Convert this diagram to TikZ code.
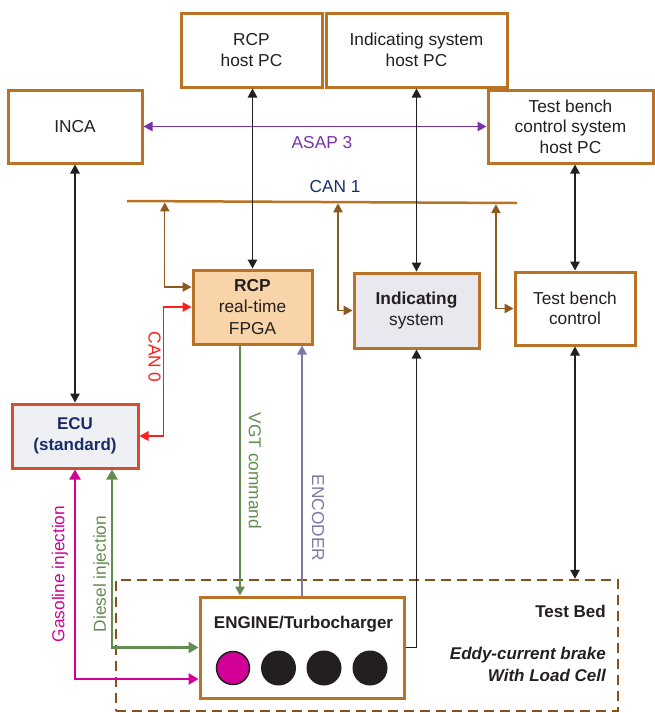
\documentclass[tikz,border=0pt]{standalone}
\usepackage{fontspec}
\setmainfont{Liberation Sans}
\usetikzlibrary{arrows.meta,calc}
\definecolor{boxbrown}{RGB}{186,114,36}
\definecolor{linkbrown}{RGB}{140,90,30}
\definecolor{dashbrown}{RGB}{130,82,25}
\definecolor{rcpfill}{RGB}{248,212,168}
\definecolor{indfill}{RGB}{232,232,238}
\definecolor{ecufill}{RGB}{238,240,244}
\definecolor{ecured}{RGB}{208,80,48}
\definecolor{navy}{RGB}{25,45,105}
\definecolor{asap}{RGB}{120,50,170}
\definecolor{canred}{RGB}{255,30,30}
\definecolor{grn}{RGB}{100,140,80}
\definecolor{enc}{RGB}{125,120,165}
\definecolor{mag}{RGB}{210,0,150}
\definecolor{txt}{RGB}{35,31,32}
\begin{document}
\begin{tikzpicture}[x=1pt,y=-1pt,
  >={Triangle[length=9pt,width=9.5pt]},
  every node/.style={font=\fontsize{17.3}{20.5}\selectfont, text=txt},
  box/.style={draw=boxbrown, line width=3pt, fill=white, align=center, inner sep=0pt},
  lbl/.style={inner sep=0pt},
  conn/.style={line width=1.3pt, draw=txt},
  canlink/.style={line width=1.3pt, draw=linkbrown},
  inj/.style={line width=2.3pt, >={Triangle[length=10pt,width=11pt]}},
  cyl/.style={circle, fill=txt, minimum size=35pt, inner sep=0pt}
]
\useasboundingbox (0,0) rectangle (655,713);

% boxes
\node[box, minimum width=141pt, minimum height=74pt] (rcphost) at (251.5,50) {RCP\\host PC};
\node[box, minimum width=181pt, minimum height=74pt] (indhost) at (416.5,50) {Indicating system\\host PC};
\node[box, minimum width=134pt, minimum height=73pt] (inca) at (75,126.5) {INCA};
\node[box, minimum width=165pt, minimum height=73pt] (tbhost) at (570.5,126.5) {Test bench\\control system\\host PC};
\node[box, fill=rcpfill, minimum width=119pt, minimum height=74pt, font=\fontsize{17.3}{21.5}\selectfont] (rcp) at (252.5,307) {\textbf{RCP}\\real-time\\FPGA};
\node[box, fill=indfill, minimum width=125pt, minimum height=75pt] (ind) at (416.5,310.5) {\textbf{Indicating}\\system};
\node[box, minimum width=120pt, minimum height=73pt] (tbc) at (575,308.5) {Test bench\\control};
\node[box, draw=ecured, fill=ecufill, text=navy, font=\fontsize{17}{21}\selectfont\bfseries, minimum width=126pt, minimum height=64pt] (ecu) at (75,436) {ECU\\(standard)};

% test bed
\node[draw=dashbrown, line width=2.5pt, dash pattern=on 10pt off 6pt, minimum width=502pt, minimum height=131pt, inner sep=0pt] (testbed) at (367,645.5) {};
\node[box, minimum width=204pt, minimum height=101pt] (engine) at (302,647.5) {};
\node[lbl, font=\fontsize{17}{20}\selectfont\bfseries] (englbl) at (303.5,624) {ENGINE/Turbocharger};
\node[cyl, fill=mag, draw=txt, line width=1.5pt, minimum size=33pt] (cyl1) at (233,668) {};
\node[cyl] (cyl2) at (278.5,668) {};
\node[cyl] (cyl3) at (324,668) {};
\node[cyl] (cyl4) at (370,668) {};
\node[lbl, anchor=east, font=\fontsize{17}{20}\selectfont\bfseries] (ltb) at (606,611) {Test Bed};
\node[lbl, anchor=east, align=right, font=\fontsize{17}{22}\selectfont\bfseries\itshape] (lbrake) at (606,664) {Eddy-current brake\\With Load Cell};

% CAN 1 bus
\coordinate (can1L) at (127,201);
\coordinate (can1R) at (517,203);
\draw[draw=boxbrown, line width=2.5pt] (can1L) -- (can1R);
\coordinate (t1) at ($(can1L)!0.097!(can1R)+(0,1.3)$);
\coordinate (t2) at ($(can1L)!0.541!(can1R)+(0,1.3)$);
\coordinate (t3) at ($(can1L)!0.946!(can1R)+(0,1.3)$);
\node[lbl, text=navy] (lcan1) at (335,187) {CAN 1};

% ASAP 3
\draw[line width=1.3pt, draw=asap, <->] (inca.east) -- (tbhost.west);
\node[lbl, text=asap] (lasap) at (322,143) {ASAP 3};

% black links
\draw[conn, <->] (rcp.north) -- (rcp.north |- rcphost.south);
\draw[conn, <->] (ind.north) -- (indhost.south);
\draw[conn, <->] (tbc.north) -- (tbc.north |- tbhost.south);
\draw[conn, <->] (ecu.north) -- (inca.south);
\draw[conn, <->] (tbc.south) -- (tbc.south |- testbed.north);
\draw[conn, ->] (engine.east) -| (ind.south);

% CAN links
\draw[canlink, <->] (t1) |- ([yshift=20pt]rcp.west);
\draw[canlink, <->] (t2) |- (ind.west);
\draw[canlink, <->] (t3) |- (tbc.west);

% CAN 0
\draw[line width=1.3pt, draw=canred, <->] (ecu.east) -| ($(rcp.west)+(-28,0)$) -- (rcp.west);
\node[lbl, text=canred, rotate=-90] (lcan0) at (154.5,357) {CAN 0};

% VGT command and encoder
\coordinate (vgtx) at (240,0);
\coordinate (encx) at (302,0);
\draw[line width=1.2pt, draw=grn, ->] (rcp.south -| vgtx) -- (engine.north -| vgtx);
\node[lbl, text=grn, rotate=-90] (lvgt) at (255,471) {VGT command};
\draw[line width=1.2pt, draw=enc, ->] (engine.north -| encx) -- (rcp.south -| encx);
\node[lbl, text=enc, rotate=-90] (lenc) at (318,518) {ENCODER};

% injections
\coordinate (diex) at (112,0);
\draw[inj, draw=mag, <->] (ecu.south) |- ([yshift=-31.5pt]engine.west);
\draw[inj, draw=grn, <->] (ecu.south -| diex) |- (engine.west);
\node[lbl, text=mag, rotate=90] (lgas) at (60,574) {Gasoline injection};
\node[lbl, text=grn, rotate=90] (ldies) at (101.5,574) {Diesel injection};
\end{tikzpicture}
\end{document}
